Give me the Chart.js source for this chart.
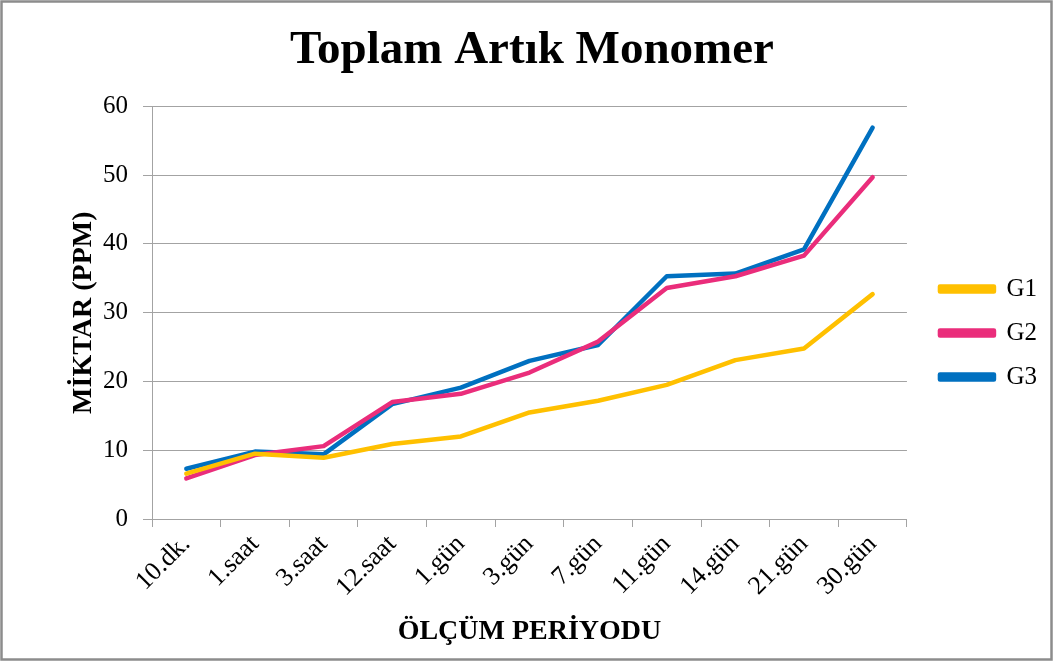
<!DOCTYPE html>
<html>
<head>
<meta charset="utf-8">
<script src="https://cdn.jsdelivr.net/npm/chart.js@4"></script>
<style>
  html, body { margin: 0; padding: 0; background: #fff; }
  #wrap { width: 1057px; height: 664px; }
</style>
</head>
<body>
<div id="wrap"><canvas id="myChart" width="1057" height="664"></canvas></div>
<script>
const categories = ['10.dk.', '1.saat', '3.saat', '12.saat', '1.gün', '3.gün', '7.gün', '11.gün', '14.gün', '21.gün', '30.gün'];

// measured amounts (ppm) per group
const g1 = [6.6, 9.5, 8.9, 10.9, 12.0, 15.5, 17.2, 19.5, 23.1, 24.8, 32.7];
const g2 = [5.9, 9.3, 10.6, 17.0, 18.2, 21.3, 25.8, 33.6, 35.3, 38.3, 49.7];
const g3 = [7.3, 9.8, 9.4, 16.7, 19.1, 23.0, 25.3, 35.3, 35.7, 39.2, 56.9];

const seriesNames = ['G1', 'G2', 'G3'];
const seriesColors = ['#FFC000', '#EA2D7B', '#0070C0'];

const serif = '"Liberation Serif", "Times New Roman", serif';
const gridColor = '#a3a3a3';

// outer frame of the chart
const frame = {
  id: 'frame',
  beforeDraw(chart) {
    const c = chart.ctx;
    c.save();
    c.fillStyle = '#fff';
    c.fillRect(0, 0, chart.width, chart.height);
    c.strokeStyle = '#8c8c8c';
    c.lineWidth = 2.5;
    c.strokeRect(1.5, 1.5, 1050, 658);
    c.restore();
  }
};

// push legend a bit away from plot area
const legendShift = {
  id: 'legendShift',
  afterLayout(chart) {
    const lg = chart.legend;
    if (!lg) return;
    lg.left += 14;
    lg.right += 14;
  }
};

new Chart(document.getElementById('myChart'), {
  type: 'line',
  data: {
    labels: categories,
    datasets: [g1, g2, g3].map((d, i) => ({
      label: seriesNames[i],
      data: d,
      borderColor: seriesColors[i],
      backgroundColor: seriesColors[i],
      borderWidth: 4.5,
      pointRadius: 0,
      pointHoverRadius: 0,
      tension: 0,
      borderCapStyle: 'round',
      borderJoinStyle: 'round'
    }))
  },
  options: {
    responsive: false,
    animation: false,
    layout: {
      padding: { top: 14, left: 31, right: 24, bottom: 12 }
    },
    scales: {
      x: {
        offset: true,
        grid: {
          offset: true,
          drawOnChartArea: false,
          drawTicks: true,
          tickLength: 8,
          color: gridColor
        },
        border: { color: gridColor },
        ticks: {
          color: '#000',
          font: { family: serif, size: 26 },
          minRotation: 45,
          maxRotation: 45,
          padding: 2,
          autoSkip: false
        },
        title: {
          display: true,
          text: 'ÖLÇÜM PERİYODU',
          color: '#000',
          font: { family: serif, size: 28, weight: 'bold' },
          padding: { top: 0, bottom: 3 }
        },
        afterFit(scale) { scale.height = 133; }
      },
      y: {
        min: 0,
        max: 60,
        ticks: {
          stepSize: 10,
          color: '#000',
          font: { family: serif, size: 25 },
          padding: 15
        },
        grid: {
          color: gridColor,
          tickLength: 9
        },
        border: { color: gridColor },
        title: {
          display: true,
          text: 'MİKTAR (PPM)',
          color: '#000',
          font: { family: serif, size: 28, weight: 'bold' },
          padding: { top: 36, bottom: 0 }
        },
        afterFit(scale) { scale.width = 121; }
      }
    },
    plugins: {
      title: {
        display: true,
        text: 'Toplam Artık Monomer',
        color: '#000',
        font: { family: serif, size: 47, weight: 'bold' },
        padding: { top: 9, bottom: 27 }
      },
      legend: {
        position: 'right',
        align: 'center',
        labels: {
          color: '#000',
          font: { family: serif, size: 25 },
          boxWidth: 54,
          boxHeight: 5,
          padding: 19
        }
      },
      tooltip: { enabled: false }
    }
  },
  plugins: [frame, legendShift]
});
</script>
</body>
</html>
